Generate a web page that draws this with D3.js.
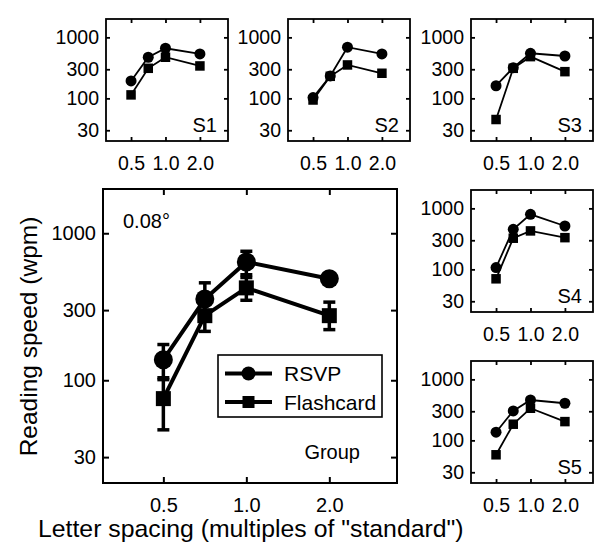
<!DOCTYPE html>
<html>
<head>
<meta charset="utf-8">
<script src="https://cdn.jsdelivr.net/npm/d3@7"></script>
<style>
  html, body { margin: 0; padding: 0; background: #fff; }
  svg { display: block; font-family: "Liberation Sans", Arial, Helvetica, sans-serif; }
</style>
</head>
<body>
<svg id="chart" width="607" height="557"></svg>
<script>
// ---------- data ----------
const spacing = [0.5, 0.707, 1.0, 2.0];
const xTicks = [0.5, 1.0, 2.0];
const yTicks = [30, 100, 300, 1000];
const xDomain = [0.302, 3.52];
const yDomain = [20, 2000];

const groupRSVP    = [138, 357, 638, 490];
const groupRSVPLo  = [101, 254, 522, 462];
const groupRSVPHi  = [175, 460, 754, 518];
const groupFlash   = [75, 275, 425, 275];
const groupFlashLo = [46, 215, 350, 221];
const groupFlashHi = [104, 335, 500, 340];

const s1RSVP  = [193, 472, 663, 535];
const s1Flash = [114, 311, 472, 340];
const s2RSVP  = [103, 233, 689, 535];
const s2Flash = [94, 230, 353, 258];
const s3RSVP  = [161, 318, 548, 495];
const s3Flash = [45, 311, 483, 274];
const s4RSVP  = [107, 454, 800, 514];
const s4Flash = [70, 324, 427, 331];
const s5RSVP  = [136, 304, 459, 406];
const s5Flash = [58, 184, 336, 203];

const subjects = ["S1", "S2", "S3", "S4", "S5"];
const seriesNames = ["RSVP", "Flashcard"];

// ---------- drawing ----------
const svg = d3.select("#chart");

function panel(opt) {
  const g = svg.append("g").attr("transform", `translate(${opt.x},${opt.y})`);
  const x = d3.scaleLog().base(2).domain(xDomain).range([0, opt.w]);
  const y = d3.scaleLog().domain(yDomain).range([opt.h, 0]);

  // axes (ticks inward on all sides)
  const yl = g.append("g").call(d3.axisLeft(y).tickValues(yTicks).tickFormat(d3.format("d"))
      .tickSizeInner(-opt.tick).tickSizeOuter(0).tickPadding(opt.ypad));
  const yr = g.append("g").attr("transform", `translate(${opt.w},0)`)
      .call(d3.axisRight(y).tickValues(yTicks).tickFormat("").tickSizeInner(-opt.tick).tickSizeOuter(0));
  const xb = g.append("g").attr("transform", `translate(0,${opt.h})`)
      .call(d3.axisBottom(x).tickValues(xTicks).tickFormat(d3.format(".1f"))
      .tickSizeInner(-opt.tick).tickSizeOuter(0).tickPadding(opt.xpad));
  const xt = g.append("g").call(d3.axisTop(x).tickValues(xTicks).tickFormat("").tickSizeInner(-opt.tick).tickSizeOuter(0));
  [yl, yr, xb, xt].forEach(a => {
    a.select(".domain").remove();
    a.selectAll("line").attr("stroke", "#000").attr("stroke-width", opt.frameW);
    a.selectAll("text").attr("fill", "#000").attr("font-size", opt.tickFont)
      .attr("font-family", '"Liberation Sans", Arial, Helvetica, sans-serif');
  });
  xb.selectAll("text").attr("dy", null).attr("y", opt.xpad).attr("dominant-baseline", "hanging");

  g.append("rect").attr("width", opt.w).attr("height", opt.h)
    .attr("fill", "none").attr("stroke", "#000").attr("stroke-width", opt.frameW);

  const line = d3.line().x((d, i) => x(spacing[i])).y(d => y(d));

  // error bars
  if (opt.err) {
    opt.err.forEach(e => {
      spacing.forEach((s, i) => {
        const cx = x(s);
        g.append("line").attr("x1", cx).attr("x2", cx).attr("y1", y(e.lo[i])).attr("y2", y(e.hi[i]))
          .attr("stroke", "#000").attr("stroke-width", opt.errW);
        [e.lo[i], e.hi[i]].forEach(v => {
          g.append("line").attr("x1", cx - opt.cap).attr("x2", cx + opt.cap).attr("y1", y(v)).attr("y2", y(v))
            .attr("stroke", "#000").attr("stroke-width", opt.errW);
        });
      });
    });
  }

  // series: flashcard then RSVP
  g.append("path").datum(opt.flash).attr("d", line).attr("fill", "none")
    .attr("stroke", "#000").attr("stroke-width", opt.lineW);
  g.append("path").datum(opt.rsvp).attr("d", line).attr("fill", "none")
    .attr("stroke", "#000").attr("stroke-width", opt.lineW);
  g.selectAll(".sq").data(opt.flash).enter().append("rect")
    .attr("x", (d, i) => x(spacing[i]) - opt.sq / 2).attr("y", d => y(d) - opt.sq / 2)
    .attr("width", opt.sq).attr("height", opt.sq).attr("fill", "#000");
  g.selectAll(".ci").data(opt.rsvp).enter().append("circle")
    .attr("cx", (d, i) => x(spacing[i])).attr("cy", d => y(d)).attr("r", opt.r).attr("fill", "#000");

  if (opt.label) {
    g.append("text").attr("x", opt.w - opt.labelDx).attr("y", opt.h - opt.labelDy)
      .attr("text-anchor", "end").attr("font-size", opt.labelFont).text(opt.label);
  }
  return { g, x, y };
}

const small = { w: 122, h: 122, tick: 4, ypad: 7, xpad: 15, frameW: 1.8, tickFont: 19.5,
  lineW: 1.8, sq: 9.5, r: 5.5, labelDx: 11, labelDy: 9, labelFont: 20 };

panel(Object.assign({}, small, { x: 106, y: 19, rsvp: s1RSVP, flash: s1Flash, label: subjects[0] }));
panel(Object.assign({}, small, { x: 288, y: 19, rsvp: s2RSVP, flash: s2Flash, label: subjects[1] }));
panel(Object.assign({}, small, { x: 471, y: 19, rsvp: s3RSVP, flash: s3Flash, label: subjects[2] }));
panel(Object.assign({}, small, { x: 471, y: 190, rsvp: s4RSVP, flash: s4Flash, label: subjects[3] }));
panel(Object.assign({}, small, { x: 471, y: 361, rsvp: s5RSVP, flash: s5Flash, label: subjects[4] }));

const main = panel({ x: 103, y: 189, w: 294, h: 294, tick: 6, ypad: 7, xpad: 15, frameW: 2, tickFont: 20,
  lineW: 4, sq: 15, r: 9.5, labelDx: 37, labelDy: 24, labelFont: 20, label: "Group",
  rsvp: groupRSVP, flash: groupFlash, cap: 6, errW: 3.5,
  err: [{ lo: groupRSVPLo, hi: groupRSVPHi }, { lo: groupFlashLo, hi: groupFlashHi }] });

// size annotation
main.g.append("text").attr("x", 20).attr("y", 39).attr("font-size", 20).text("0.08°");

// legend
const leg = main.g.append("g").attr("transform", "translate(115,166)");
leg.append("rect").attr("width", 164).attr("height", 62).attr("fill", "#fff")
  .attr("stroke", "#000").attr("stroke-width", 1.6);
seriesNames.forEach((name, i) => {
  const yy = 18.5 + i * 28.5;
  leg.append("line").attr("x1", 7).attr("x2", 54).attr("y1", yy).attr("y2", yy)
    .attr("stroke", "#000").attr("stroke-width", 4);
  if (i === 0) leg.append("circle").attr("cx", 30.5).attr("cy", yy).attr("r", 7).attr("fill", "#000");
  else leg.append("rect").attr("x", 24.5).attr("y", yy - 6).attr("width", 12).attr("height", 12).attr("fill", "#000");
  leg.append("text").attr("x", 66).attr("y", yy).attr("dominant-baseline", "central")
    .attr("font-size", 21).text(name);
});

// axis titles
svg.append("text").attr("transform", "translate(36.5,336.5) rotate(-90)")
  .attr("text-anchor", "middle").attr("font-size", 24.5).text("Reading speed (wpm)");
svg.append("text").attr("x", 38).attr("y", 537).attr("font-size", 24.8)
  .text('Letter spacing (multiples of "standard")');
</script>
</body>
</html>
